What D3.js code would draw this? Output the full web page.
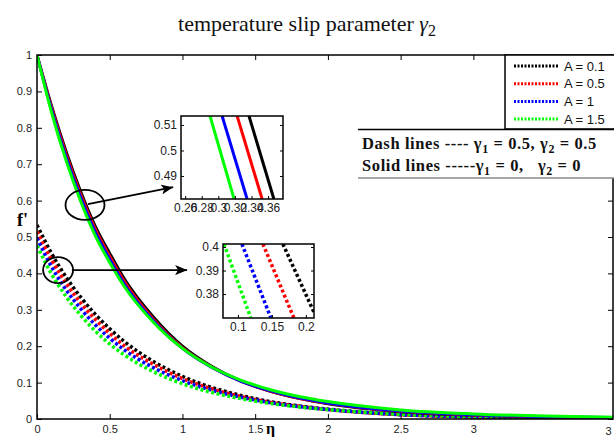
<!DOCTYPE html>
<html>
<head>
<meta charset="utf-8">
<script src="https://cdn.jsdelivr.net/npm/d3@7"></script>
<style>
  body { margin: 0; background: #fff; }
</style>
</head>
<body>
<div id="chart"></div>
<script>
// Series labels and colours
const seriesNames = ['A = 0.1', 'A = 0.5', 'A = 1', 'A = 1.5'];
const seriesColors = ['#000000', '#ff0000', '#0000ff', '#00ff00'];

// eta grid shared by all main curves
const etaGrid = [0, 0.1, 0.2, 0.3, 0.4, 0.5, 0.6, 0.8, 1.0, 1.2, 1.4, 1.6, 1.8, 2.0, 2.5, 3.0, 3.5, 3.96];

// Solid lines: gamma1 = 0, gamma2 = 0
const solidA01 = [1, 0.86, 0.735, 0.625, 0.53, 0.455, 0.385, 0.28, 0.2, 0.145, 0.105, 0.077, 0.057, 0.042, 0.02, 0.01, 0.005, 0.003];
const solidA05 = [1, 0.855, 0.728, 0.617, 0.522, 0.447, 0.378, 0.274, 0.196, 0.143, 0.104, 0.077, 0.057, 0.043, 0.021, 0.011, 0.006, 0.003];
const solidA1  = [1, 0.85, 0.72, 0.609, 0.514, 0.439, 0.371, 0.27, 0.194, 0.142, 0.104, 0.078, 0.058, 0.044, 0.022, 0.012, 0.006, 0.004];
const solidA15 = [1, 0.842, 0.71, 0.598, 0.504, 0.43, 0.364, 0.266, 0.194, 0.143, 0.107, 0.081, 0.062, 0.048, 0.025, 0.014, 0.008, 0.005];

// Dash (dotted) lines: gamma1 = 0.5, gamma2 = 0.5
const dashA01 = [0.533, 0.455, 0.39, 0.335, 0.288, 0.248, 0.213, 0.158, 0.117, 0.087, 0.065, 0.048, 0.036, 0.027, 0.012, 0.006, 0.003, 0.002];
const dashA05 = [0.515, 0.437, 0.373, 0.319, 0.274, 0.235, 0.201, 0.15, 0.111, 0.083, 0.062, 0.046, 0.035, 0.026, 0.012, 0.006, 0.003, 0.002];
const dashA1  = [0.497, 0.418, 0.355, 0.303, 0.259, 0.222, 0.19, 0.141, 0.105, 0.079, 0.06, 0.045, 0.034, 0.026, 0.012, 0.006, 0.003, 0.002];
const dashA15 = [0.476, 0.398, 0.336, 0.285, 0.242, 0.206, 0.176, 0.13, 0.097, 0.073, 0.056, 0.043, 0.033, 0.026, 0.013, 0.007, 0.004, 0.002];

// Axis ticks
const xTickValues = [0, 0.5, 1, 1.5, 2, 2.5, 3];
const xEdgeTick = { value: 3.93, label: '3' };
const yTickValues = [0, 0.1, 0.2, 0.3, 0.4, 0.5, 0.6, 0.7, 0.8, 0.9, 1];

// Zoom inset 1 (solid lines), points [eta, f']
const inset1XTicks = [0.26, 0.28, 0.30, 0.32, 0.34, 0.36];
const inset1YTicks = [0.49, 0.5, 0.51];
const inset1Lines = [
  [[0.337, 0.5135], [0.367, 0.481]],
  [[0.3227, 0.5135], [0.3528, 0.481]],
  [[0.3046, 0.5135], [0.3347, 0.481]],
  [[0.290, 0.5135], [0.319, 0.481]]
];

// Zoom inset 2 (dash lines)
const inset2XTicks = [0.1, 0.15, 0.2];
const inset2YTicks = [0.38, 0.39, 0.4];
const inset2Lines = [
  [[0.1662, 0.4013], [0.2118, 0.3723]],
  [[0.1368, 0.4013], [0.1824, 0.3698]],
  [[0.1059, 0.4013], [0.1485, 0.3698]],
  [[0.0794, 0.4013], [0.119, 0.3698]]
];

// Ellipse markers and arrows, in main-axis data units
const callouts = [
  { cx: 0.33, cy: 0.588, rx: 19.5, ry: 15, from: [0.35, 0.59], to: [0.936, 0.637] },
  { cx: 0.145, cy: 0.409, rx: 15, ry: 13, from: [0.24, 0.409], to: [1.032, 0.409] }
];

const width = 614;
const height = 437;
const plot = { left: 37, right: 613, top: 55, bottom: 419 };
const axisFont = '"Liberation Sans", Arial, sans-serif';
const serifFont = '"Liberation Serif", "Times New Roman", serif';

const svg = d3.select('#chart').append('svg')
  .attr('width', width)
  .attr('height', height)
  .style('display', 'block');

const x = d3.scaleLinear().domain([0, 3.96]).range([plot.left, plot.right]);
const y = d3.scaleLinear().domain([0, 1]).range([plot.bottom, plot.top]);

svg.append('defs').append('clipPath').attr('id', 'plotClip')
  .append('rect')
  .attr('x', plot.left).attr('y', plot.top)
  .attr('width', plot.right - plot.left).attr('height', plot.bottom - plot.top);

// Title
const title = svg.append('text')
  .attr('x', 307).attr('y', 31)
  .attr('text-anchor', 'middle')
  .style('font-family', serifFont)
  .style('font-size', '22px')
  .attr('fill', '#111');
title.append('tspan').text('temperature slip parameter ');
title.append('tspan').style('font-style', 'italic').text('γ');
title.append('tspan').attr('dy', 5).style('font-size', '16px').text('2');

// Axes
function styleAxis(g) {
  g.select('.domain').remove();
  g.selectAll('line').attr('stroke', '#000').attr('stroke-width', 1);
  g.selectAll('text').style('font-family', axisFont).style('font-size', '11px').attr('fill', '#222');
}

svg.append('g')
  .attr('transform', `translate(0,${plot.bottom})`)
  .call(d3.axisBottom(x).tickValues(xTickValues).tickFormat(d3.format('')).tickSizeInner(-5).tickSizeOuter(0).tickPadding(6))
  .call(styleAxis);

svg.append('text')
  .attr('x', x(xEdgeTick.value)).attr('y', 435)
  .attr('text-anchor', 'middle')
  .style('font-family', axisFont).style('font-size', '11px').attr('fill', '#222')
  .text(xEdgeTick.label);

svg.append('g')
  .attr('transform', `translate(0,${plot.top})`)
  .call(d3.axisTop(x).tickValues(xTickValues).tickFormat('').tickSizeInner(-5).tickSizeOuter(0))
  .call(styleAxis);

svg.append('g')
  .attr('transform', `translate(${plot.left},0)`)
  .call(d3.axisLeft(y).tickValues(yTickValues).tickFormat(d3.format('')).tickSizeInner(-5).tickSizeOuter(0).tickPadding(5))
  .call(styleAxis);

svg.append('g')
  .attr('transform', `translate(${plot.right},0)`)
  .call(d3.axisRight(y).tickValues(yTickValues).tickFormat('').tickSizeInner(-5).tickSizeOuter(0))
  .call(styleAxis);

// Curves
const line = d3.line()
  .x(d => x(d[0]))
  .y(d => y(d[1]))
  .curve(d3.curveMonotoneX);

const curves = svg.append('g').attr('clip-path', 'url(#plotClip)');

const dashSeries = [dashA01, dashA05, dashA1, dashA15];
const solidSeries = [solidA01, solidA05, solidA1, solidA15];

dashSeries.forEach((vals, i) => {
  curves.append('path')
    .datum(etaGrid.map((e, k) => [e, vals[k]]))
    .attr('d', line)
    .attr('fill', 'none')
    .attr('stroke', seriesColors[i])
    .attr('stroke-width', 3.5)
    .attr('stroke-dasharray', '3,2.5');
});

solidSeries.forEach((vals, i) => {
  curves.append('path')
    .datum(etaGrid.map((e, k) => [e, vals[k]]))
    .attr('d', line)
    .attr('fill', 'none')
    .attr('stroke', seriesColors[i])
    .attr('stroke-width', 3);
});

// Plot frame
svg.append('rect')
  .attr('x', plot.left).attr('y', plot.top)
  .attr('width', plot.right - plot.left).attr('height', plot.bottom - plot.top)
  .attr('fill', 'none').attr('stroke', '#000').attr('stroke-width', 1.5);

// Axis labels
svg.append('text')
  .attr('x', 17).attr('y', 226)
  .style('font-family', serifFont).style('font-size', '18px').style('font-weight', 'bold')
  .text("f'");

svg.append('text')
  .attr('x', 266).attr('y', 434)
  .style('font-family', serifFont).style('font-size', '16px').style('font-weight', 'bold')
  .text('η');

// Callouts: ellipses + arrows
const arrowDefs = svg.select('defs');
arrowDefs.append('marker')
  .attr('id', 'arrowHead')
  .attr('viewBox', '0 0 12 10')
  .attr('refX', 12).attr('refY', 5)
  .attr('markerWidth', 12).attr('markerHeight', 10)
  .attr('markerUnits', 'userSpaceOnUse')
  .attr('orient', 'auto')
  .append('path')
  .attr('d', 'M0,0 L12,5 L0,10 L3,5 Z')
  .attr('fill', '#000');

callouts.forEach(c => {
  svg.append('ellipse')
    .attr('cx', x(c.cx)).attr('cy', y(c.cy))
    .attr('rx', c.rx).attr('ry', c.ry)
    .attr('fill', 'none').attr('stroke', '#000').attr('stroke-width', 1.8);
  svg.append('line')
    .attr('x1', x(c.from[0])).attr('y1', y(c.from[1]))
    .attr('x2', x(c.to[0])).attr('y2', y(c.to[1]))
    .attr('stroke', '#000').attr('stroke-width', 1.8)
    .attr('marker-end', 'url(#arrowHead)');
});

// Insets
function drawInset(cfg) {
  const g = svg.append('g');
  const ix = d3.scaleLinear().domain(cfg.xDomain).range([cfg.box.x, cfg.box.x + cfg.box.w]);
  const iy = d3.scaleLinear().domain(cfg.yDomain).range([cfg.box.y + cfg.box.h, cfg.box.y]);
  const clipId = cfg.id + 'Clip';
  g.append('clipPath').attr('id', clipId)
    .append('rect')
    .attr('x', cfg.box.x).attr('y', cfg.box.y).attr('width', cfg.box.w).attr('height', cfg.box.h);
  g.append('rect')
    .attr('x', cfg.box.x).attr('y', cfg.box.y).attr('width', cfg.box.w).attr('height', cfg.box.h)
    .attr('fill', '#fff');

  const il = d3.line().x(d => ix(d[0])).y(d => iy(d[1]));
  const lines = g.append('g').attr('clip-path', `url(#${clipId})`);
  cfg.lines.forEach((pts, i) => {
    lines.append('path')
      .datum(pts)
      .attr('d', il)
      .attr('fill', 'none')
      .attr('stroke', seriesColors[i])
      .attr('stroke-width', cfg.width)
      .attr('stroke-dasharray', cfg.dash);
  });

  const style = a => {
    a.select('.domain').remove();
    a.selectAll('line').attr('stroke', '#000');
    a.selectAll('text').style('font-family', axisFont).style('font-size', '12px').attr('fill', '#222');
  };
  g.append('g').attr('transform', `translate(0,${cfg.box.y + cfg.box.h})`)
    .call(d3.axisBottom(ix).tickValues(cfg.xTicks).tickFormat(d3.format('')).tickSizeInner(-3).tickSizeOuter(0).tickPadding(4))
    .call(style);
  g.append('g').attr('transform', `translate(${cfg.box.x},0)`)
    .call(d3.axisLeft(iy).tickValues(cfg.yTicks).tickFormat(d3.format('')).tickSizeInner(-3).tickSizeOuter(0).tickPadding(4))
    .call(style);
  g.append('g').attr('transform', `translate(${cfg.box.x + cfg.box.w},0)`)
    .call(d3.axisRight(iy).tickValues(cfg.yTicks).tickFormat('').tickSizeInner(-3).tickSizeOuter(0))
    .call(style);
  g.append('rect')
    .attr('x', cfg.box.x).attr('y', cfg.box.y).attr('width', cfg.box.w).attr('height', cfg.box.h)
    .attr('fill', 'none').attr('stroke', '#000').attr('stroke-width', 1.5);
}

drawInset({
  id: 'inset1',
  box: { x: 181, y: 116, w: 102, h: 83 },
  xDomain: [0.255, 0.378], yDomain: [0.481, 0.5135],
  xTicks: inset1XTicks, yTicks: inset1YTicks,
  lines: inset1Lines, width: 3, dash: null
});

drawInset({
  id: 'inset2',
  box: { x: 223, y: 244, w: 91, h: 74 },
  xDomain: [0.078, 0.212], yDomain: [0.3698, 0.4013],
  xTicks: inset2XTicks, yTicks: inset2YTicks,
  lines: inset2Lines, width: 3.5, dash: '3,2.5'
});

// Legend
const legend = svg.append('g');
legend.append('rect')
  .attr('x', 505).attr('y', plot.top).attr('width', 120).attr('height', 74)
  .attr('fill', '#fff').attr('stroke', '#000').attr('stroke-width', 1.5);
seriesNames.forEach((name, i) => {
  const ly = 66 + i * 17.7;
  legend.append('line')
    .attr('x1', 514).attr('x2', 558).attr('y1', ly).attr('y2', ly)
    .attr('stroke', seriesColors[i]).attr('stroke-width', 3)
    .attr('stroke-dasharray', '2,1.5');
  legend.append('text')
    .attr('x', 564).attr('y', ly + 4.5)
    .style('font-family', axisFont).style('font-size', '13px').attr('fill', '#111')
    .text(name);
});

// Annotation box
const note = svg.append('g');
note.append('rect')
  .attr('x', 358).attr('y', 129).attr('width', 270).attr('height', 49)
  .attr('fill', '#fff').attr('stroke', 'none');
note.append('line').attr('x1', 358).attr('x2', 614).attr('y1', 129.5).attr('y2', 129.5)
  .attr('stroke', '#000').attr('stroke-width', 1.5);
note.append('line').attr('x1', 358).attr('x2', 614).attr('y1', 178).attr('y2', 178)
  .attr('stroke', '#888').attr('stroke-width', 1.5);

const noteRows = [
  ['Dash lines ---- ', '0.5, ', '0.5'],
  ['Solid lines -----', '0,   ', '0']
];
noteRows.forEach((r, i) => {
  const t = note.append('text')
    .attr('x', 362).attr('y', 149 + i * 22)
    .style('font-family', serifFont).style('font-size', '16.5px').style('font-weight', 'bold')
    .style('letter-spacing', '0.6px')
    .attr('fill', '#111')
    .attr('xml:space', 'preserve');
  t.append('tspan').text(r[0] + 'γ');
  t.append('tspan').attr('dy', 4).style('font-size', '12px').text('1');
  t.append('tspan').attr('dy', -4).text(' = ' + r[1] + 'γ');
  t.append('tspan').attr('dy', 4).style('font-size', '12px').text('2');
  t.append('tspan').attr('dy', -4).text(' = ' + r[2]);
});
</script>
</body>
</html>
